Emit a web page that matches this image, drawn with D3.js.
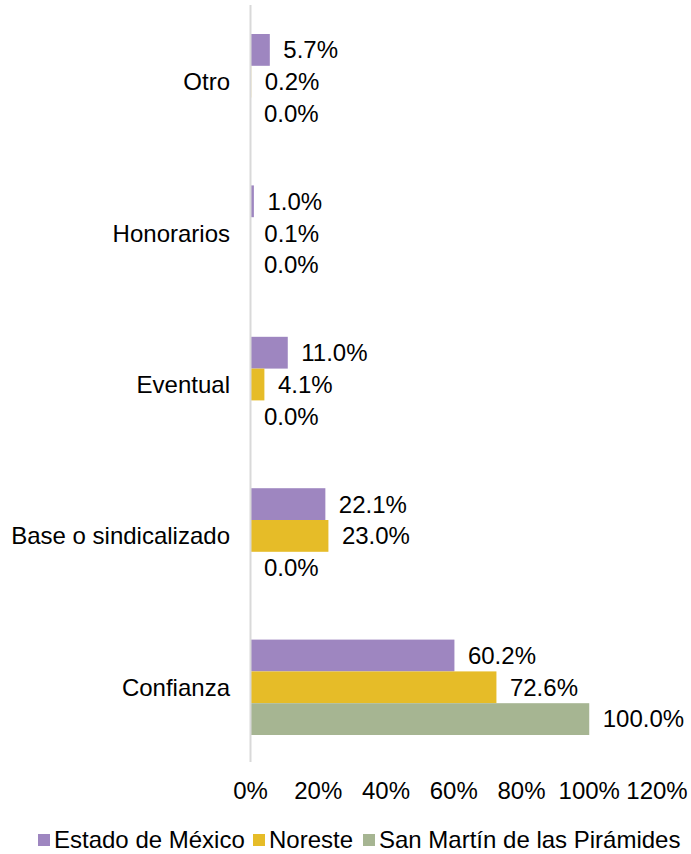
<!DOCTYPE html>
<html lang="es">
<head>
    <meta charset="UTF-8">
    <title>Tipo de contratación</title>
    <script src="https://cdn.jsdelivr.net/npm/d3@7"></script>
    <style>
        body { margin: 0; background: #fff; }
        text { font-family: "Liberation Sans", Arial, sans-serif; fill: #000; font-size: 24px; }
    </style>
</head>
<body>
<div id="chart"></div>
<script>
    // datos
    var categorias = ["Otro", "Honorarios", "Eventual", "Base o sindicalizado", "Confianza"];
    var series = ["Estado de México", "Noreste", "San Martín de las Pirámides"];
    var edomex = [5.7, 1.0, 11.0, 22.1, 60.2];
    var noreste = [0.2, 0.1, 4.1, 23.0, 72.6];
    var sanMartin = [0.0, 0.0, 0.0, 0.0, 100.0];
    var ticks = [0, 20, 40, 60, 80, 100, 120];
    var colores = ["#9e86c0", "#e6bc28", "#a6b592"];

    var width = 691, height = 854;
    var margin = { left: 250.5, top: 6, right: 34, bottom: 91 };

    var svg = d3.select("#chart").append("svg")
        .attr("width", width).attr("height", height);

    var x = d3.scaleLinear().domain([0, 120]).range([margin.left, width - margin.right]);
    var y = d3.scaleBand().domain(categorias).range([margin.top, height - margin.bottom]).paddingInner(0.37).paddingOuter(0.185);
    var ySub = d3.scaleBand().domain(series).range([0, y.bandwidth()]);

    var valores = [edomex, noreste, sanMartin];

    // barras + etiquetas
    series.forEach(function (s, j) {
        var g = svg.append("g");
        g.selectAll("rect").data(valores[j]).enter().append("rect")
            .attr("x", x(0))
            .attr("y", function (d, i) { return y(categorias[i]) + ySub(s); })
            .attr("width", function (d) { return x(d) - x(0); })
            .attr("height", ySub.bandwidth())
            .attr("fill", colores[j]);
        g.selectAll("text").data(valores[j]).enter().append("text")
            .attr("x", function (d) { return x(d) + 13.5; })
            .attr("y", function (d, i) { return y(categorias[i]) + ySub(s) + ySub.bandwidth() / 2; })
            .attr("dy", "0.35em")
            .text(function (d) { return d.toFixed(1) + "%"; });
    });

    // eje y
    svg.append("line")
        .attr("x1", x(0)).attr("x2", x(0))
        .attr("y1", margin.top - 1).attr("y2", height - margin.bottom - 1)
        .attr("stroke", "#d9d9d9").attr("stroke-width", 2);

    svg.selectAll(".cat").data(categorias).enter().append("text")
        .attr("class", "cat")
        .attr("x", x(0) - 20.5)
        .attr("y", function (d) { return y(d) + y.bandwidth() / 2; })
        .attr("dy", "0.35em")
        .attr("text-anchor", "end")
        .text(function (d) { return d; });

    // eje x (solo etiquetas)
    svg.selectAll(".tick").data(ticks).enter().append("text")
        .attr("class", "tick")
        .attr("x", function (d) { return x(d); })
        .attr("y", 799)
        .attr("text-anchor", "middle")
        .text(function (d) { return d + "%"; });

    // leyenda
    var leg = svg.append("g").attr("transform", "translate(0,848)");
    var offs = [38, 253, 363];
    series.forEach(function (s, j) {
        var item = leg.append("g").attr("transform", "translate(" + offs[j] + ",0)");
        item.append("rect").attr("x", 0).attr("y", -14).attr("width", 12).attr("height", 12).attr("fill", colores[j]);
        item.append("text").attr("x", 16).attr("y", 0).text(s);
    });
</script>
</body>
</html>
